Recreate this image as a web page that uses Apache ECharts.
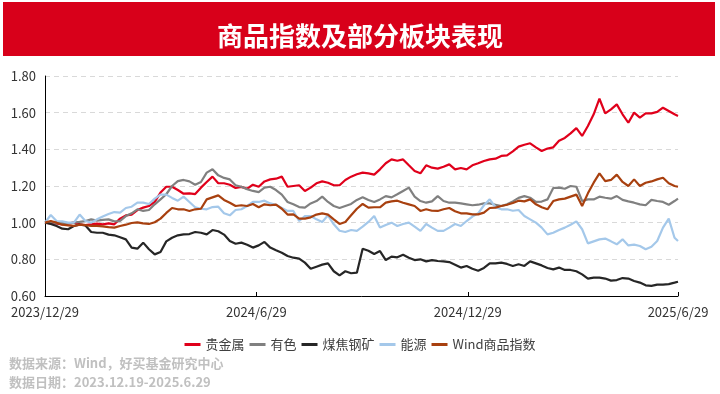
<!DOCTYPE html>
<html>
<head>
<meta charset="utf-8">
<script src="https://cdn.jsdelivr.net/npm/echarts@6/dist/echarts.min.js"></script>
<style>
html,body{margin:0;padding:0;background:#fff;}
#chart{width:720px;height:394px;}
</style>
</head>
<body>
<div id="chart"></div>
<script>
const titleText = '商品指数及部分板块表现';
const sourceLines = ['数据来源：Wind，好买基金研究中心', '数据日期：2023.12.19-2025.6.29'];
const seriesNames = ['贵金属', '有色', '煤焦钢矿', '能源', 'Wind商品指数'];
const seriesColors = ['#E0001B', '#808080', '#262626', '#A4C8EA', '#A8400F'];
const tickDates = ['2023-12-29', '2024-06-29', '2024-12-29', '2025-06-29'];
const tickLabels = ['2023/12/29', '2024/6/29', '2024/12/29', '2025/6/29'];
const yTicks = [0.6, 0.8, 1.0, 1.2, 1.4, 1.6, 1.8];

// sampling dates: every 5 calendar days from 2023-12-29, plus the last day 2025-06-29
const dates = [];
for (let i = 0; i < 110; i++) dates.push(new Date(Date.UTC(2023, 11, 29 + 5 * i)));
dates.push(new Date(Date.UTC(2025, 5, 29)));

const preciousMetals = [
1.000,0.996,0.995,0.991,0.995,1.000,0.991,0.987,0.991,0.995,0.991,0.996,0.991,1.022,1.040,1.044,1.069,1.082,1.091,1.113,1.164,1.196,1.196,1.178,1.158,1.160,1.156,1.191,1.222,1.251,1.215,1.215,1.207,1.189,
1.195,1.185,1.207,1.196,1.225,1.236,1.240,1.251,1.196,1.200,1.204,1.173,1.191,1.215,1.225,1.218,1.204,1.204,1.233,1.251,1.264,1.273,1.269,1.262,1.291,1.324,1.345,1.338,1.345,1.313,1.282,1.269,1.313,1.300,1.295,1.305,1.318,1.291,1.298,1.291,1.313,1.324,
1.336,1.345,1.349,1.364,1.367,1.389,1.415,1.425,1.433,1.411,1.391,1.404,1.411,1.447,1.462,1.487,1.516,1.473,1.527,1.591,1.676,1.596,1.618,1.645,1.591,1.545,1.600,1.573,1.596,1.596,1.604,1.627,1.609,1.591,1.582];
const nonferrous = [
1.000,1.004,0.996,1.000,0.996,1.000,1.004,1.009,1.018,1.011,1.015,1.018,1.007,1.009,1.036,1.051,1.073,1.064,1.069,1.100,1.127,1.155,1.200,1.227,1.233,1.225,1.207,1.222,1.273,1.291,1.258,1.244,1.236,1.204,
1.196,1.182,1.173,1.167,1.191,1.196,1.178,1.153,1.113,1.100,1.085,1.082,1.105,1.118,1.142,1.113,1.091,1.080,1.091,1.102,1.124,1.138,1.124,1.113,1.127,1.145,1.138,1.155,1.173,1.191,1.142,1.118,1.109,1.116,1.145,1.118,1.109,1.109,1.105,1.100,1.095,1.098,
1.105,1.105,1.098,1.091,1.100,1.116,1.135,1.145,1.136,1.113,1.115,1.127,1.189,1.191,1.185,1.200,1.196,1.118,1.127,1.127,1.142,1.136,1.131,1.145,1.124,1.116,1.109,1.100,1.095,1.124,1.118,1.113,1.098,1.118,1.131];
const coalSteel = [
1.000,0.993,0.982,0.967,0.964,0.982,0.989,0.985,0.949,0.945,0.945,0.935,0.931,0.920,0.909,0.864,0.858,0.891,0.855,0.827,0.840,0.898,0.918,0.931,0.936,0.938,0.949,0.945,0.936,0.960,0.953,0.935,0.900,0.885,
0.891,0.880,0.864,0.876,0.895,0.864,0.849,0.836,0.818,0.809,0.804,0.782,0.749,0.760,0.771,0.778,0.735,0.713,0.735,0.724,0.727,0.858,0.847,0.829,0.845,0.796,0.815,0.811,0.825,0.809,0.796,0.800,0.789,0.796,0.791,0.789,0.785,0.771,0.755,0.764,0.749,0.738,
0.753,0.778,0.778,0.782,0.775,0.764,0.773,0.764,0.789,0.778,0.767,0.753,0.745,0.755,0.742,0.742,0.735,0.718,0.695,0.700,0.700,0.695,0.684,0.687,0.698,0.695,0.682,0.673,0.658,0.655,0.662,0.662,0.665,0.673,0.678];
const energy = [
1.000,1.042,1.009,1.007,1.000,1.000,1.044,1.009,1.000,1.018,1.033,1.047,1.058,1.055,1.080,1.087,1.109,1.109,1.102,1.131,1.153,1.153,1.135,1.120,1.142,1.113,1.084,1.076,1.073,1.085,1.087,1.051,1.040,1.069,
1.073,1.091,1.113,1.113,1.120,1.105,1.098,1.080,1.064,1.064,1.009,1.036,1.036,1.018,1.004,1.040,0.991,0.956,0.949,0.960,0.955,0.978,1.004,1.036,0.973,0.987,1.000,0.982,0.993,1.000,0.978,0.955,0.993,0.973,0.955,0.955,0.973,0.993,0.982,1.009,1.033,1.051,
1.095,1.127,1.084,1.073,1.073,1.065,1.069,1.036,1.018,1.000,0.973,0.936,0.945,0.960,0.973,0.989,1.007,0.964,0.887,0.898,0.909,0.913,0.898,0.882,0.909,0.876,0.880,0.873,0.855,0.869,0.900,0.973,1.022,0.918,0.900];
const windIndex = [
1.000,1.009,1.000,0.989,0.985,0.982,0.989,0.987,0.982,0.982,0.980,0.976,0.973,0.982,0.989,0.998,1.002,0.996,0.993,1.002,1.022,1.053,1.080,1.073,1.073,1.064,1.073,1.076,1.127,1.138,1.149,1.124,1.109,1.091,
1.095,1.091,1.102,1.084,1.100,1.095,1.098,1.076,1.044,1.045,1.022,1.022,1.029,1.044,1.051,1.044,1.018,0.993,1.004,1.040,1.076,1.102,1.082,1.084,1.084,1.109,1.116,1.120,1.109,1.100,1.091,1.064,1.073,1.065,1.064,1.073,1.080,1.062,1.051,1.051,1.045,1.045,
1.055,1.080,1.082,1.091,1.098,1.107,1.120,1.116,1.127,1.100,1.084,1.073,1.118,1.127,1.131,1.142,1.153,1.091,1.160,1.218,1.269,1.227,1.233,1.262,1.222,1.200,1.236,1.200,1.218,1.225,1.236,1.245,1.215,1.200,1.196];

const allValues = [preciousMetals, nonferrous, coalSteel, energy, windIndex];
const DAY = 86400000;
const toUTC = s => { const p = s.split('-').map(Number); return Date.UTC(p[0], p[1] - 1, p[2]); };
const t0 = toUTC(tickDates[0]);
const dayOf = t => Math.round((t - t0) / DAY);
const tickDays = tickDates.map(s => dayOf(toUTC(s)));

const FONT = '"Noto Sans CJK SC", "Microsoft YaHei", sans-serif';
const chart = echarts.init(document.getElementById('chart'), null, {renderer: 'canvas'});
chart.setOption({
  backgroundColor: '#fff',
  animation: false,
  textStyle: {fontFamily: FONT},
  graphic: [
    {type: 'rect', shape: {x: 3, y: 2, width: 712, height: 54}, style: {fill: '#D8001A'}, silent: true},
    {type: 'text', x: 360, y: 36, style: {text: titleText, fill: '#fff', font: 'bold 26px ' + FONT, textAlign: 'center', textVerticalAlign: 'middle'}},
    {type: 'text', x: 9, y: 363, style: {text: sourceLines[0], fill: '#C0C0C0', font: 'bold 13px ' + FONT, textAlign: 'left', textVerticalAlign: 'middle'}},
    {type: 'text', x: 9, y: 382, style: {text: sourceLines[1], fill: '#C0C0C0', font: 'bold 13px ' + FONT, textAlign: 'left', textVerticalAlign: 'middle'}}
  ],
  legend: {
    data: seriesNames,
    left: 'center',
    top: 333,
    icon: 'rect',
    itemWidth: 16,
    itemHeight: 3,
    itemGap: 5,
    textStyle: {fontSize: 13, color: '#404040', fontFamily: FONT}
  },
  grid: {left: 45, right: 42, top: 76, bottom: 98, containLabel: false, outerBoundsMode: 'none'},
  xAxis: {
    type: 'value',
    min: tickDays[0],
    max: tickDays[3],
    axisLine: {show: true, onZero: false, lineStyle: {color: '#000', width: 1}},
    axisTick: {show: true, inside: true, length: 4, customValues: tickDays, lineStyle: {color: '#000'}},
    axisLabel: {
      customValues: tickDays,
      formatter: v => { const i = tickDays.indexOf(Math.round(v)); return i >= 0 ? tickLabels[i] : ''; },
      fontSize: 13, color: '#333', margin: 10, hideOverlap: false
    },
    splitLine: {show: false}
  },
  yAxis: {
    type: 'value',
    min: yTicks[0],
    max: yTicks[yTicks.length - 1],
    interval: 0.2,
    axisLine: {show: true, lineStyle: {color: '#000', width: 1}},
    axisTick: {show: false},
    axisLabel: {formatter: v => v.toFixed(2), fontSize: 13, color: '#333', margin: 9},
    splitLine: {show: true, lineStyle: {color: '#D9D9D9', type: [5, 4], width: 1}}
  },
  series: seriesNames.map((name, i) => ({
    name: name,
    type: 'line',
    showSymbol: false,
    symbol: 'none',
    data: dates.map((d, k) => [dayOf(d.getTime()), allValues[i][k]]),
    lineStyle: {color: seriesColors[i], width: 2.2},
    itemStyle: {color: seriesColors[i]},
    emphasis: {disabled: true}
  }))
});
</script>
</body>
</html>
